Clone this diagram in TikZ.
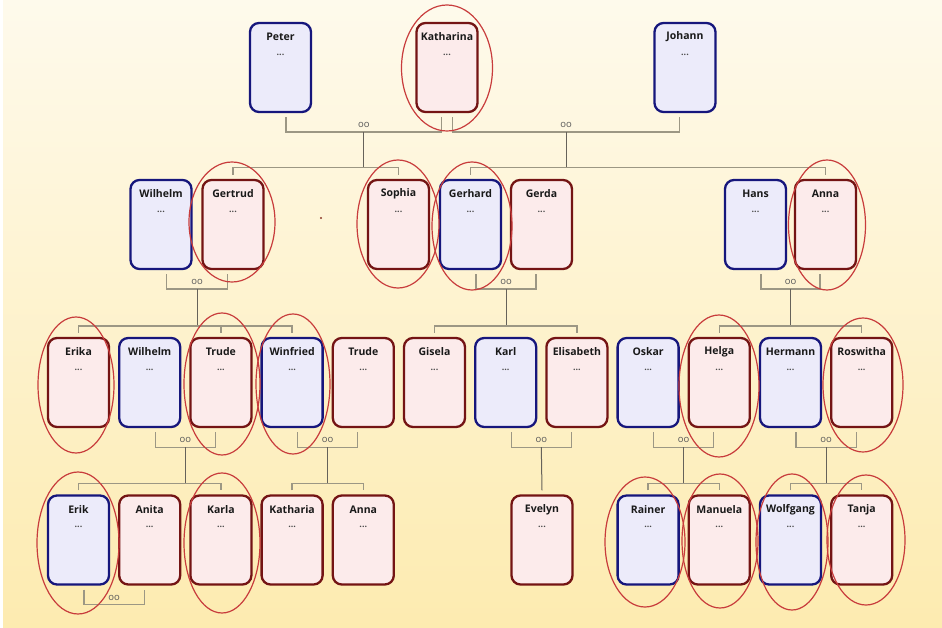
\documentclass[tikz,border=0pt]{standalone}
\usepackage{fontspec}
\setmainfont{Open Sans}
\usetikzlibrary{calc}
\definecolor{maleFill}{HTML}{ECEBFA}
\definecolor{maleDraw}{HTML}{16167C}
\definecolor{femFill}{HTML}{FCEBEB}
\definecolor{femDraw}{HTML}{741414}
\definecolor{ringRed}{HTML}{C83C3C}
\definecolor{lineGray}{HTML}{9C9784}
\definecolor{lineDark}{HTML}{66625A}
\definecolor{bgTop}{HTML}{FEFAEC}
\definecolor{bgBot}{HTML}{FDEBB0}
\definecolor{dotRed}{HTML}{8B3A2A}
\newcommand\pers[5]{%
  \node[#2] (#1) at (#3,#4) {};
  \node[nm] (#1-n) at ([yshift=-15pt]#1.north) {#5};
  \node[dots] (#1-d) at ([yshift=-33pt]#1.north) {...};}
\newcommand\marry[3]{%
  \draw[mline] ([xshift=5.5pt,yshift=-4pt]#1.south) -- ++(0,15) -| coordinate[pos=0.25] (#3) ([xshift=-5.5pt,yshift=-4pt]#2.south);
  \node[oo] (#3-oo) at ([yshift=7pt]#3) {oo};}
\newcommand\kidline[2]{%
  \draw[mline] ([yshift=4pt]#1.north) -- ++(0,-7) -| ([yshift=4pt]#2.north);}
\newcommand\kidtick[1]{%
  \draw[mline] ([yshift=4pt]#1.north) -- ++(0,-7);}
\newcommand\descend[2]{%
  \draw[dline] (#1) -- ($(#1 |- #2.north)+(0,-11)$);}
\begin{document}
\begin{tikzpicture}[x=1pt,y=-1pt,
  person/.style={rounded corners=9pt, line width=2.3pt, minimum width=61pt, minimum height=89pt, inner sep=0pt},
  male/.style={person, draw=maleDraw, fill=maleFill},
  female/.style={person, draw=femDraw, fill=femFill},
  nm/.style={font=\fontsize{10.5}{12}\selectfont\bfseries, text=black!90, inner sep=0pt},
  dots/.style={font=\fontsize{9}{10}\selectfont\bfseries, text=black!70, inner sep=0pt},
  oo/.style={font=\fontsize{9.5}{11}\selectfont, text=black!65, inner sep=0pt},
  mline/.style={draw=lineGray, line width=1.3pt},
  dline/.style={draw=lineDark, line width=1pt},
  ring/.style={draw=ringRed, line width=1.2pt},
]
\useasboundingbox (0,0) rectangle (942,628);
\fill[white] (0,0) rectangle (942,628);
\shade[top color=bgTop, bottom color=bgBot] (3,0) rectangle (942,628);

% row 1
\pers{Peter}{male}{280.5}{67.5}{Peter}
\pers{Katharina}{female}{447}{67.5}{Katharina}
\pers{Johann}{male}{685}{67.5}{Johann}
% row 2
\pers{WilhelmA}{male}{161}{224.5}{Wilhelm}
\pers{Gertrud}{female}{233}{224.5}{Gertrud}
\pers{Sophia}{female}{398.5}{224.5}{Sophia}
\pers{Gerhard}{male}{470.5}{224.5}{Gerhard}
\pers{Gerda}{female}{541.5}{224.5}{Gerda}
\pers{Hans}{male}{755.5}{224.5}{Hans}
\pers{AnnaA}{female}{825.5}{224.5}{Anna}
% row 3
\pers{Erika}{female}{78.5}{382.5}{Erika}
\pers{WilhelmB}{male}{149.7}{382.5}{Wilhelm}
\pers{TrudeA}{female}{220.9}{382.5}{Trude}
\pers{Winfried}{male}{292.1}{382.5}{Winfried}
\pers{TrudeB}{female}{363.3}{382.5}{Trude}
\pers{Gisela}{female}{434.5}{382.5}{Gisela}
\pers{Karl}{male}{505.7}{382.5}{Karl}
\pers{Elisabeth}{female}{576.9}{382.5}{Elisabeth}
\pers{Oskar}{male}{648.1}{382.5}{Oskar}
\pers{Helga}{female}{719.3}{382.5}{Helga}
\pers{Hermann}{male}{790.5}{382.5}{Hermann}
\pers{Roswitha}{female}{861.7}{382.5}{Roswitha}
% row 4
\pers{Erik}{male}{78.5}{540}{Erik}
\pers{Anita}{female}{149.7}{540}{Anita}
\pers{Karla}{female}{220.9}{540}{Karla}
\pers{Katharia}{female}{292.1}{540}{Katharia}
\pers{AnnaB}{female}{363.3}{540}{Anna}
\pers{Evelyn}{female}{542}{540}{Evelyn}
\pers{Rainer}{male}{648.1}{540}{Rainer}
\pers{Manuela}{female}{719.3}{540}{Manuela}
\pers{Wolfgang}{male}{790.5}{540}{Wolfgang}
\pers{Tanja}{female}{861.7}{540}{Tanja}

% marriages
\marry{Peter}{Katharina}{mPK}
\marry{Katharina}{Johann}{mKJ}
\marry{WilhelmA}{Gertrud}{mWG}
\marry{Gerhard}{Gerda}{mGG}
\marry{Hans}{AnnaA}{mHA}
\marry{WilhelmB}{TrudeA}{mWT}
\marry{Winfried}{TrudeB}{mWiT}
\marry{Karl}{Elisabeth}{mKE}
\marry{Oskar}{Helga}{mOH}
\marry{Hermann}{Roswitha}{mHR}
\marry{Erik}{Anita}{mEA}

% children of row 1
\descend{mPK}{Gertrud}
\kidline{Gertrud}{Sophia}
\descend{mKJ}{Gerhard}
\kidline{Gerhard}{AnnaA}
% children of row 2
\descend{mWG}{Erika}
\kidline{Erika}{Winfried}
\kidtick{TrudeA}
\descend{mGG}{Gisela}
\kidline{Gisela}{Elisabeth}
\descend{mHA}{Helga}
\kidline{Helga}{Roswitha}
% children of row 3
\descend{mWT}{Erik}
\kidline{Erik}{Karla}
\descend{mWiT}{Katharia}
\kidline{Katharia}{AnnaB}
\draw[dline] (mKE) -- ([yshift=4pt]Evelyn.north);
\descend{mOH}{Rainer}
\kidline{Rainer}{Manuela}
\descend{mHR}{Wolfgang}
\kidline{Wolfgang}{Tanja}

% rings
\draw[ring] (447,68) ellipse [x radius=45.5pt, y radius=63pt];
\draw[ring] (232,222) ellipse [x radius=43pt, y radius=60pt];
\draw[ring] (398,224) ellipse [x radius=41pt, y radius=64pt];
\draw[ring] (472,226) ellipse [x radius=40pt, y radius=64pt];
\draw[ring] (827,225) ellipse [x radius=38.5pt, y radius=65pt];
\draw[ring] (76,385) ellipse [x radius=38pt, y radius=68pt];
\draw[ring] (222,384) ellipse [x radius=38pt, y radius=71pt];
\draw[ring] (293,384) ellipse [x radius=37pt, y radius=70pt];
\draw[ring] (719,386) ellipse [x radius=40pt, y radius=71pt];
\draw[ring] (863,385) ellipse [x radius=40pt, y radius=67pt];
\draw[ring] (78,543) ellipse [x radius=41pt, y radius=71pt];
\draw[ring] (222,543) ellipse [x radius=38pt, y radius=70pt];
\draw[ring] (645,542) ellipse [x radius=40pt, y radius=65pt];
\draw[ring] (720,541) ellipse [x radius=38pt, y radius=67pt];
\draw[ring] (792,542) ellipse [x radius=36pt, y radius=68pt];
\draw[ring] (866,540) ellipse [x radius=39pt, y radius=65pt];

% stray dot
\fill[dotRed] (321,218) circle (1.2pt);
\end{tikzpicture}
\end{document}
